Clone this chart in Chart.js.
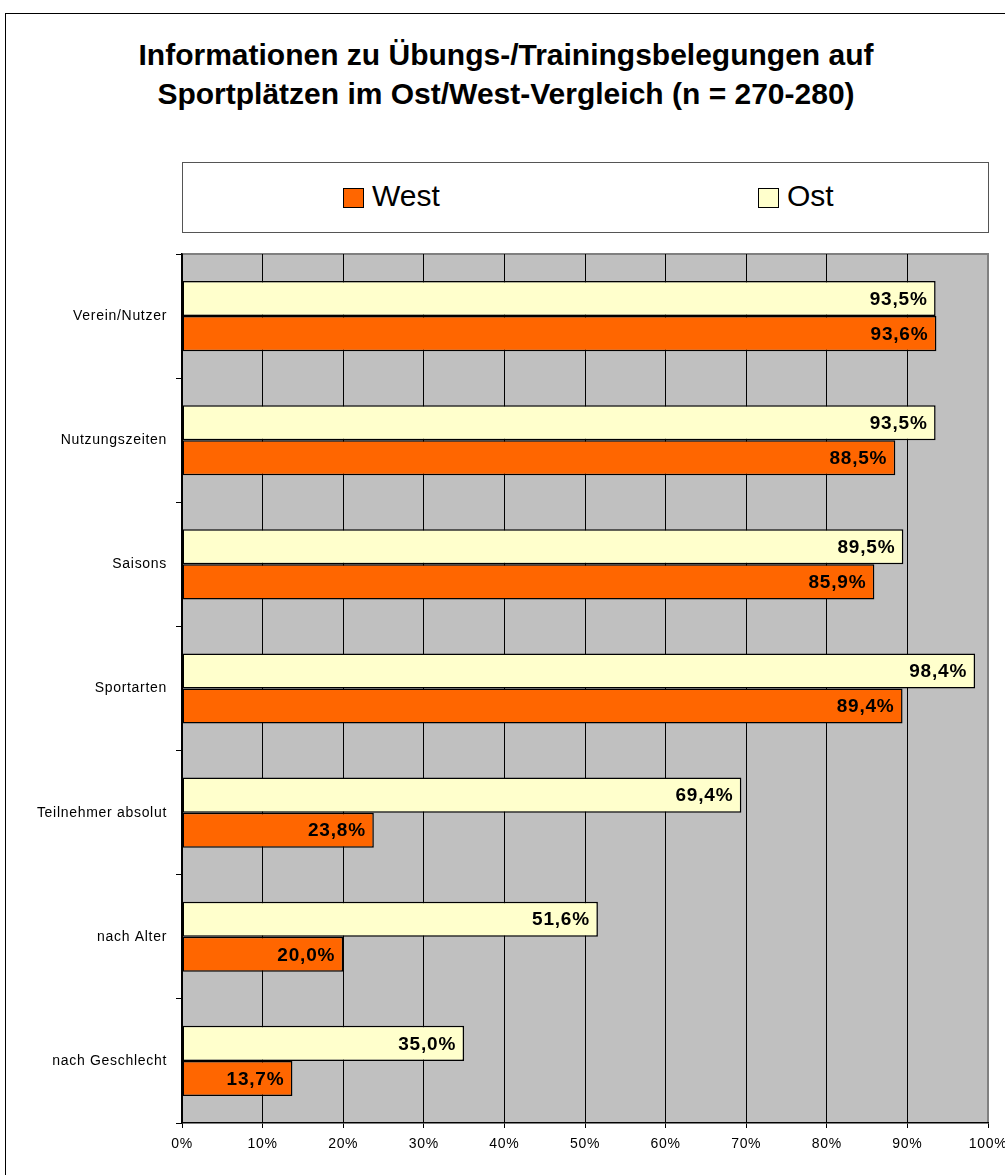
<!DOCTYPE html>
<html>
<head>
<meta charset="utf-8">
<script src="https://cdn.jsdelivr.net/npm/chart.js@4.4.0/dist/chart.umd.min.js"></script>
<style>
	body { margin: 0; overflow: hidden; background: #fff; font-family: "Liberation Sans", Arial, sans-serif; }
	#frame { position: absolute; left: 5px; top: 13px; width: 1020px; height: 1200px; border: 1px solid #000; }
	#title { position: absolute; left: 0; top: 35px; width: 1012px; text-align: center; font-weight: bold; font-size: 30px; line-height: 39px; color: #000; }
	#legend { position: absolute; left: 182px; top: 162px; width: 805px; height: 69px; border: 1px solid #555; background: #fff; }
	.swatch { position: absolute; width: 19px; height: 18px; border: 1px solid #000; }
	.lbl { position: absolute; font-size: 30px; line-height: 30px; color: #000; }
	#chart { position: absolute; left: 0; top: 0; }
</style>
</head>
<body>
<div id="frame"></div>
<div id="title">Informationen zu Übungs-/Trainingsbelegungen auf<br>Sportplätzen im Ost/West-Vergleich (n = 270-280)</div>
<div id="legend"></div>
<canvas id="chart" width="1005" height="1175"></canvas>
<script>
var categories = ['Verein/Nutzer', 'Nutzungszeiten', 'Saisons', 'Sportarten', 'Teilnehmer absolut', 'nach Alter', 'nach Geschlecht'];
var ostValues = [93.5, 93.5, 89.5, 98.4, 69.4, 51.6, 35.0];
var westValues = [93.6, 88.5, 85.9, 89.4, 23.8, 20.0, 13.7];
var xTicks = [0, 10, 20, 30, 40, 50, 60, 70, 80, 90, 100];

var westColor = '#FF6600';
var ostColor = '#FFFFCC';

// legend as html box (West first, like the original)
var legendItems = [
	{ text: 'West', color: westColor, left: 160 },
	{ text: 'Ost', color: ostColor, left: 575 }
];
var legendBox = document.getElementById('legend');
legendItems.forEach(function(item) {
	var sw = document.createElement('div');
	sw.className = 'swatch';
	sw.style.left = item.left + 'px';
	sw.style.top = '25px';
	sw.style.background = item.color;
	legendBox.appendChild(sw);
	var tx = document.createElement('div');
	tx.className = 'lbl';
	tx.style.left = (item.left + 29) + 'px';
	tx.style.top = '18px';
	tx.textContent = item.text;
	legendBox.appendChild(tx);
});

var plotBackground = {
	id: 'plotBackground',
	beforeDraw: function(chart) {
		var ctx = chart.ctx, a = chart.chartArea;
		ctx.save();
		ctx.fillStyle = '#C0C0C0';
		ctx.fillRect(a.left, a.top, a.right - a.left, a.bottom - a.top);
		ctx.strokeStyle = '#808080';
		ctx.lineWidth = 2;
		ctx.beginPath();
		ctx.moveTo(a.left, a.top);
		ctx.lineTo(a.right, a.top);
		ctx.lineTo(a.right, a.bottom);
		ctx.stroke();
		ctx.restore();
		ctx.letterSpacing = '0.7px';
	}
};

var valueLabels = {
	id: 'valueLabels',
	afterDatasetsDraw: function(chart) {
		var ctx = chart.ctx;
		ctx.save();
		ctx.letterSpacing = '0.8px';
		ctx.font = 'bold 19px "Liberation Sans", Arial, sans-serif';
		ctx.fillStyle = '#000';
		ctx.textAlign = 'right';
		ctx.textBaseline = 'middle';
		chart.data.datasets.forEach(function(ds, i) {
			chart.getDatasetMeta(i).data.forEach(function(bar, j) {
				var txt = ds.data[j].toFixed(1).replace('.', ',') + '%';
				ctx.fillText(txt, bar.x - 8, bar.y + 1);
			});
		});
		ctx.restore();
	}
};

var myChart = new Chart(document.getElementById('chart'), {
	type: 'bar',
	data: {
		labels: categories,
		datasets: [{
			label: 'Ost',
			data: ostValues,
			backgroundColor: ostColor,
			borderColor: '#000',
			borderWidth: 1.5,
			borderSkipped: false
		}, {
			label: 'West',
			data: westValues,
			backgroundColor: westColor,
			borderColor: '#000',
			borderWidth: 1.5,
			borderSkipped: false
		}]
	},
	options: {
		indexAxis: 'y',
		responsive: false,
		animation: false,
		categoryPercentage: 0.565,
		barPercentage: 1,
		layout: { padding: { left: 0, right: 17, top: 254, bottom: 0 } },
		plugins: {
			legend: { display: false },
			title: { display: false },
			tooltip: { enabled: false }
		},
		scales: {
			x: {
				min: 0,
				max: 100,
				afterBuildTicks: function(scale) {
					scale.ticks = xTicks.map(function(v) { return { value: v }; });
				},
				afterFit: function(scale) {
					scale.height = 52;
					scale.paddingLeft = 0;
					scale.paddingRight = 0;
				},
				ticks: {
					color: '#000',
					padding: 8,
					maxRotation: 0,
					font: { family: '"Liberation Sans", Arial, sans-serif', size: 14 },
					callback: function(v) { return v + '%'; }
				},
				grid: {
					color: function(c) { return c.tick && c.tick.value === 100 ? '#808080' : '#000'; },
					lineWidth: 1,
					tickLength: 5,
					tickColor: '#000'
				},
				border: { display: true, color: '#000', width: 1.5 }
			},
			y: {
				afterFit: function(scale) {
					scale.width = 182;
					scale.paddingTop = 0;
					scale.paddingBottom = 0;
				},
				ticks: {
					color: '#000',
					padding: 9,
					font: { family: '"Liberation Sans", Arial, sans-serif', size: 14 }
				},
				grid: {
					offset: true,
					drawOnChartArea: false,
					tickLength: 6,
					color: '#000',
					lineWidth: 1
				},
				border: { display: true, color: '#000', width: 1.5 }
			}
		}
	},
	plugins: [plotBackground, valueLabels]
});
</script>
</body>
</html>
